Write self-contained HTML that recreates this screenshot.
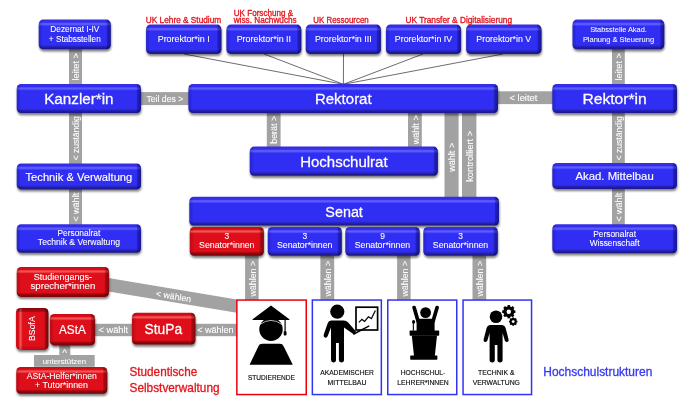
<!DOCTYPE html>
<html lang="de"><head><meta charset="utf-8"><title>Hochschulstrukturen</title>
<style>
html,body{margin:0;padding:0;background:#fff;}
body{width:691px;height:410px;overflow:hidden;}
svg{display:block;filter:blur(0.35px);font-family:"Liberation Sans",sans-serif;}
.t text{paint-order:stroke;}
.c text{stroke:#000;stroke-width:0.15px;}
</style></head><body>
<svg width="691" height="410" viewBox="0 0 691 410">
<defs>
<filter id="sh" x="-5%" y="-5%" width="110%" height="110%"><feGaussianBlur stdDeviation="1.3"/></filter>
<linearGradient id="g1" x1="0" y1="0" x2="0" y2="1"><stop offset="0.000" stop-color="#362ee2"/><stop offset="0.041" stop-color="#362ee2"/><stop offset="0.088" stop-color="#302ef3"/><stop offset="0.135" stop-color="#5e5cff"/><stop offset="0.162" stop-color="#5e5cff"/><stop offset="0.223" stop-color="#302ef3"/><stop offset="0.851" stop-color="#302ef3"/><stop offset="0.899" stop-color="#2a26c4"/><stop offset="0.956" stop-color="#1e1a94"/><stop offset="1.000" stop-color="#1e1a94"/></linearGradient>
<linearGradient id="g1s" x1="0" y1="0" x2="1" y2="0"><stop offset="0.000" stop-color="#00004a" stop-opacity="0.2"/><stop offset="0.036" stop-color="#00004a" stop-opacity="0.12"/><stop offset="0.056" stop-color="#00004a" stop-opacity="0"/><stop offset="0.936" stop-color="#00004a" stop-opacity="0"/><stop offset="0.953" stop-color="#00004a" stop-opacity="0.32"/><stop offset="1.000" stop-color="#00004a" stop-opacity="0.55"/></linearGradient>
<linearGradient id="g2" x1="0" y1="0" x2="0" y2="1"><stop offset="0.000" stop-color="#362ee2"/><stop offset="0.041" stop-color="#362ee2"/><stop offset="0.090" stop-color="#302ef3"/><stop offset="0.138" stop-color="#5e5cff"/><stop offset="0.166" stop-color="#5e5cff"/><stop offset="0.228" stop-color="#302ef3"/><stop offset="0.848" stop-color="#302ef3"/><stop offset="0.897" stop-color="#2a26c4"/><stop offset="0.955" stop-color="#1e1a94"/><stop offset="1.000" stop-color="#1e1a94"/></linearGradient>
<linearGradient id="g2s" x1="0" y1="0" x2="1" y2="0"><stop offset="0.000" stop-color="#00004a" stop-opacity="0.2"/><stop offset="0.021" stop-color="#00004a" stop-opacity="0.12"/><stop offset="0.032" stop-color="#00004a" stop-opacity="0"/><stop offset="0.963" stop-color="#00004a" stop-opacity="0"/><stop offset="0.973" stop-color="#00004a" stop-opacity="0.32"/><stop offset="1.000" stop-color="#00004a" stop-opacity="0.55"/></linearGradient>
<linearGradient id="g3" x1="0" y1="0" x2="0" y2="1"><stop offset="0.000" stop-color="#362ee2"/><stop offset="0.046" stop-color="#362ee2"/><stop offset="0.100" stop-color="#302ef3"/><stop offset="0.154" stop-color="#5e5cff"/><stop offset="0.185" stop-color="#5e5cff"/><stop offset="0.255" stop-color="#302ef3"/><stop offset="0.830" stop-color="#302ef3"/><stop offset="0.884" stop-color="#2a26c4"/><stop offset="0.950" stop-color="#1e1a94"/><stop offset="1.000" stop-color="#1e1a94"/></linearGradient>
<linearGradient id="g3s" x1="0" y1="0" x2="1" y2="0"><stop offset="0.000" stop-color="#00004a" stop-opacity="0.2"/><stop offset="0.021" stop-color="#00004a" stop-opacity="0.12"/><stop offset="0.032" stop-color="#00004a" stop-opacity="0"/><stop offset="0.963" stop-color="#00004a" stop-opacity="0"/><stop offset="0.973" stop-color="#00004a" stop-opacity="0.32"/><stop offset="1.000" stop-color="#00004a" stop-opacity="0.55"/></linearGradient>
<linearGradient id="g4" x1="0" y1="0" x2="0" y2="1"><stop offset="0.000" stop-color="#362ee2"/><stop offset="0.042" stop-color="#362ee2"/><stop offset="0.091" stop-color="#302ef3"/><stop offset="0.140" stop-color="#5e5cff"/><stop offset="0.168" stop-color="#5e5cff"/><stop offset="0.232" stop-color="#302ef3"/><stop offset="0.846" stop-color="#302ef3"/><stop offset="0.895" stop-color="#2a26c4"/><stop offset="0.954" stop-color="#1e1a94"/><stop offset="1.000" stop-color="#1e1a94"/></linearGradient>
<linearGradient id="g4s" x1="0" y1="0" x2="1" y2="0"><stop offset="0.000" stop-color="#00004a" stop-opacity="0.2"/><stop offset="0.021" stop-color="#00004a" stop-opacity="0.12"/><stop offset="0.032" stop-color="#00004a" stop-opacity="0"/><stop offset="0.963" stop-color="#00004a" stop-opacity="0"/><stop offset="0.973" stop-color="#00004a" stop-opacity="0.32"/><stop offset="1.000" stop-color="#00004a" stop-opacity="0.55"/></linearGradient>
<linearGradient id="g5" x1="0" y1="0" x2="0" y2="1"><stop offset="0.000" stop-color="#362ee2"/><stop offset="0.041" stop-color="#362ee2"/><stop offset="0.089" stop-color="#302ef3"/><stop offset="0.137" stop-color="#5e5cff"/><stop offset="0.164" stop-color="#5e5cff"/><stop offset="0.225" stop-color="#302ef3"/><stop offset="0.850" stop-color="#302ef3"/><stop offset="0.898" stop-color="#2a26c4"/><stop offset="0.956" stop-color="#1e1a94"/><stop offset="1.000" stop-color="#1e1a94"/></linearGradient>
<linearGradient id="g5s" x1="0" y1="0" x2="1" y2="0"><stop offset="0.000" stop-color="#00004a" stop-opacity="0.2"/><stop offset="0.035" stop-color="#00004a" stop-opacity="0.12"/><stop offset="0.053" stop-color="#00004a" stop-opacity="0"/><stop offset="0.939" stop-color="#00004a" stop-opacity="0"/><stop offset="0.955" stop-color="#00004a" stop-opacity="0.32"/><stop offset="1.000" stop-color="#00004a" stop-opacity="0.55"/></linearGradient>
<linearGradient id="g6" x1="0" y1="0" x2="0" y2="1"><stop offset="0.000" stop-color="#362ee2"/><stop offset="0.041" stop-color="#362ee2"/><stop offset="0.089" stop-color="#302ef3"/><stop offset="0.137" stop-color="#5e5cff"/><stop offset="0.164" stop-color="#5e5cff"/><stop offset="0.225" stop-color="#302ef3"/><stop offset="0.850" stop-color="#302ef3"/><stop offset="0.898" stop-color="#2a26c4"/><stop offset="0.956" stop-color="#1e1a94"/><stop offset="1.000" stop-color="#1e1a94"/></linearGradient>
<linearGradient id="g6s" x1="0" y1="0" x2="1" y2="0"><stop offset="0.000" stop-color="#00004a" stop-opacity="0.2"/><stop offset="0.035" stop-color="#00004a" stop-opacity="0.12"/><stop offset="0.053" stop-color="#00004a" stop-opacity="0"/><stop offset="0.939" stop-color="#00004a" stop-opacity="0"/><stop offset="0.955" stop-color="#00004a" stop-opacity="0.32"/><stop offset="1.000" stop-color="#00004a" stop-opacity="0.55"/></linearGradient>
<linearGradient id="g7" x1="0" y1="0" x2="0" y2="1"><stop offset="0.000" stop-color="#362ee2"/><stop offset="0.041" stop-color="#362ee2"/><stop offset="0.089" stop-color="#302ef3"/><stop offset="0.137" stop-color="#5e5cff"/><stop offset="0.164" stop-color="#5e5cff"/><stop offset="0.225" stop-color="#302ef3"/><stop offset="0.850" stop-color="#302ef3"/><stop offset="0.898" stop-color="#2a26c4"/><stop offset="0.956" stop-color="#1e1a94"/><stop offset="1.000" stop-color="#1e1a94"/></linearGradient>
<linearGradient id="g7s" x1="0" y1="0" x2="1" y2="0"><stop offset="0.000" stop-color="#00004a" stop-opacity="0.2"/><stop offset="0.035" stop-color="#00004a" stop-opacity="0.12"/><stop offset="0.053" stop-color="#00004a" stop-opacity="0"/><stop offset="0.939" stop-color="#00004a" stop-opacity="0"/><stop offset="0.955" stop-color="#00004a" stop-opacity="0.32"/><stop offset="1.000" stop-color="#00004a" stop-opacity="0.55"/></linearGradient>
<linearGradient id="g8" x1="0" y1="0" x2="0" y2="1"><stop offset="0.000" stop-color="#362ee2"/><stop offset="0.041" stop-color="#362ee2"/><stop offset="0.089" stop-color="#302ef3"/><stop offset="0.137" stop-color="#5e5cff"/><stop offset="0.164" stop-color="#5e5cff"/><stop offset="0.225" stop-color="#302ef3"/><stop offset="0.850" stop-color="#302ef3"/><stop offset="0.898" stop-color="#2a26c4"/><stop offset="0.956" stop-color="#1e1a94"/><stop offset="1.000" stop-color="#1e1a94"/></linearGradient>
<linearGradient id="g8s" x1="0" y1="0" x2="1" y2="0"><stop offset="0.000" stop-color="#00004a" stop-opacity="0.2"/><stop offset="0.035" stop-color="#00004a" stop-opacity="0.12"/><stop offset="0.053" stop-color="#00004a" stop-opacity="0"/><stop offset="0.939" stop-color="#00004a" stop-opacity="0"/><stop offset="0.955" stop-color="#00004a" stop-opacity="0.32"/><stop offset="1.000" stop-color="#00004a" stop-opacity="0.55"/></linearGradient>
<linearGradient id="g9" x1="0" y1="0" x2="0" y2="1"><stop offset="0.000" stop-color="#362ee2"/><stop offset="0.041" stop-color="#362ee2"/><stop offset="0.089" stop-color="#302ef3"/><stop offset="0.137" stop-color="#5e5cff"/><stop offset="0.164" stop-color="#5e5cff"/><stop offset="0.225" stop-color="#302ef3"/><stop offset="0.850" stop-color="#302ef3"/><stop offset="0.898" stop-color="#2a26c4"/><stop offset="0.956" stop-color="#1e1a94"/><stop offset="1.000" stop-color="#1e1a94"/></linearGradient>
<linearGradient id="g9s" x1="0" y1="0" x2="1" y2="0"><stop offset="0.000" stop-color="#00004a" stop-opacity="0.2"/><stop offset="0.035" stop-color="#00004a" stop-opacity="0.12"/><stop offset="0.053" stop-color="#00004a" stop-opacity="0"/><stop offset="0.939" stop-color="#00004a" stop-opacity="0"/><stop offset="0.955" stop-color="#00004a" stop-opacity="0.32"/><stop offset="1.000" stop-color="#00004a" stop-opacity="0.55"/></linearGradient>
<linearGradient id="g10" x1="0" y1="0" x2="0" y2="1"><stop offset="0.000" stop-color="#362ee2"/><stop offset="0.041" stop-color="#362ee2"/><stop offset="0.090" stop-color="#302ef3"/><stop offset="0.138" stop-color="#5e5cff"/><stop offset="0.166" stop-color="#5e5cff"/><stop offset="0.228" stop-color="#302ef3"/><stop offset="0.848" stop-color="#302ef3"/><stop offset="0.897" stop-color="#2a26c4"/><stop offset="0.955" stop-color="#1e1a94"/><stop offset="1.000" stop-color="#1e1a94"/></linearGradient>
<linearGradient id="g10s" x1="0" y1="0" x2="1" y2="0"><stop offset="0.000" stop-color="#00004a" stop-opacity="0.2"/><stop offset="0.008" stop-color="#00004a" stop-opacity="0.12"/><stop offset="0.013" stop-color="#00004a" stop-opacity="0"/><stop offset="0.985" stop-color="#00004a" stop-opacity="0"/><stop offset="0.989" stop-color="#00004a" stop-opacity="0.32"/><stop offset="1.000" stop-color="#00004a" stop-opacity="0.55"/></linearGradient>
<linearGradient id="g11" x1="0" y1="0" x2="0" y2="1"><stop offset="0.000" stop-color="#362ee2"/><stop offset="0.041" stop-color="#362ee2"/><stop offset="0.089" stop-color="#302ef3"/><stop offset="0.137" stop-color="#5e5cff"/><stop offset="0.165" stop-color="#5e5cff"/><stop offset="0.227" stop-color="#302ef3"/><stop offset="0.849" stop-color="#302ef3"/><stop offset="0.897" stop-color="#2a26c4"/><stop offset="0.955" stop-color="#1e1a94"/><stop offset="1.000" stop-color="#1e1a94"/></linearGradient>
<linearGradient id="g11s" x1="0" y1="0" x2="1" y2="0"><stop offset="0.000" stop-color="#00004a" stop-opacity="0.2"/><stop offset="0.014" stop-color="#00004a" stop-opacity="0.12"/><stop offset="0.021" stop-color="#00004a" stop-opacity="0"/><stop offset="0.976" stop-color="#00004a" stop-opacity="0"/><stop offset="0.982" stop-color="#00004a" stop-opacity="0.32"/><stop offset="1.000" stop-color="#00004a" stop-opacity="0.55"/></linearGradient>
<linearGradient id="g12" x1="0" y1="0" x2="0" y2="1"><stop offset="0.000" stop-color="#362ee2"/><stop offset="0.042" stop-color="#362ee2"/><stop offset="0.090" stop-color="#302ef3"/><stop offset="0.139" stop-color="#5e5cff"/><stop offset="0.167" stop-color="#5e5cff"/><stop offset="0.229" stop-color="#302ef3"/><stop offset="0.847" stop-color="#302ef3"/><stop offset="0.896" stop-color="#2a26c4"/><stop offset="0.955" stop-color="#1e1a94"/><stop offset="1.000" stop-color="#1e1a94"/></linearGradient>
<linearGradient id="g12s" x1="0" y1="0" x2="1" y2="0"><stop offset="0.000" stop-color="#00004a" stop-opacity="0.2"/><stop offset="0.008" stop-color="#00004a" stop-opacity="0.12"/><stop offset="0.013" stop-color="#00004a" stop-opacity="0"/><stop offset="0.985" stop-color="#00004a" stop-opacity="0"/><stop offset="0.989" stop-color="#00004a" stop-opacity="0.32"/><stop offset="1.000" stop-color="#00004a" stop-opacity="0.55"/></linearGradient>
<linearGradient id="g13" x1="0" y1="0" x2="0" y2="1"><stop offset="0.000" stop-color="#d00a14"/><stop offset="0.042" stop-color="#d00a14"/><stop offset="0.091" stop-color="#de0e1a"/><stop offset="0.139" stop-color="#f25454"/><stop offset="0.167" stop-color="#f25454"/><stop offset="0.230" stop-color="#de0e1a"/><stop offset="0.847" stop-color="#de0e1a"/><stop offset="0.895" stop-color="#a8080f"/><stop offset="0.955" stop-color="#7e060b"/><stop offset="1.000" stop-color="#7e060b"/></linearGradient>
<linearGradient id="g13s" x1="0" y1="0" x2="1" y2="0"><stop offset="0.000" stop-color="#3a0000" stop-opacity="0.2"/><stop offset="0.035" stop-color="#3a0000" stop-opacity="0.12"/><stop offset="0.054" stop-color="#3a0000" stop-opacity="0"/><stop offset="0.938" stop-color="#3a0000" stop-opacity="0"/><stop offset="0.954" stop-color="#3a0000" stop-opacity="0.32"/><stop offset="1.000" stop-color="#3a0000" stop-opacity="0.55"/></linearGradient>
<linearGradient id="g14" x1="0" y1="0" x2="0" y2="1"><stop offset="0.000" stop-color="#362ee2"/><stop offset="0.042" stop-color="#362ee2"/><stop offset="0.091" stop-color="#302ef3"/><stop offset="0.139" stop-color="#5e5cff"/><stop offset="0.167" stop-color="#5e5cff"/><stop offset="0.230" stop-color="#302ef3"/><stop offset="0.847" stop-color="#302ef3"/><stop offset="0.895" stop-color="#2a26c4"/><stop offset="0.955" stop-color="#1e1a94"/><stop offset="1.000" stop-color="#1e1a94"/></linearGradient>
<linearGradient id="g14s" x1="0" y1="0" x2="1" y2="0"><stop offset="0.000" stop-color="#00004a" stop-opacity="0.2"/><stop offset="0.035" stop-color="#00004a" stop-opacity="0.12"/><stop offset="0.054" stop-color="#00004a" stop-opacity="0"/><stop offset="0.938" stop-color="#00004a" stop-opacity="0"/><stop offset="0.954" stop-color="#00004a" stop-opacity="0.32"/><stop offset="1.000" stop-color="#00004a" stop-opacity="0.55"/></linearGradient>
<linearGradient id="g15" x1="0" y1="0" x2="0" y2="1"><stop offset="0.000" stop-color="#362ee2"/><stop offset="0.042" stop-color="#362ee2"/><stop offset="0.091" stop-color="#302ef3"/><stop offset="0.139" stop-color="#5e5cff"/><stop offset="0.167" stop-color="#5e5cff"/><stop offset="0.230" stop-color="#302ef3"/><stop offset="0.847" stop-color="#302ef3"/><stop offset="0.895" stop-color="#2a26c4"/><stop offset="0.955" stop-color="#1e1a94"/><stop offset="1.000" stop-color="#1e1a94"/></linearGradient>
<linearGradient id="g15s" x1="0" y1="0" x2="1" y2="0"><stop offset="0.000" stop-color="#00004a" stop-opacity="0.2"/><stop offset="0.035" stop-color="#00004a" stop-opacity="0.12"/><stop offset="0.054" stop-color="#00004a" stop-opacity="0"/><stop offset="0.938" stop-color="#00004a" stop-opacity="0"/><stop offset="0.954" stop-color="#00004a" stop-opacity="0.32"/><stop offset="1.000" stop-color="#00004a" stop-opacity="0.55"/></linearGradient>
<linearGradient id="g16" x1="0" y1="0" x2="0" y2="1"><stop offset="0.000" stop-color="#362ee2"/><stop offset="0.042" stop-color="#362ee2"/><stop offset="0.091" stop-color="#302ef3"/><stop offset="0.139" stop-color="#5e5cff"/><stop offset="0.167" stop-color="#5e5cff"/><stop offset="0.230" stop-color="#302ef3"/><stop offset="0.847" stop-color="#302ef3"/><stop offset="0.895" stop-color="#2a26c4"/><stop offset="0.955" stop-color="#1e1a94"/><stop offset="1.000" stop-color="#1e1a94"/></linearGradient>
<linearGradient id="g16s" x1="0" y1="0" x2="1" y2="0"><stop offset="0.000" stop-color="#00004a" stop-opacity="0.2"/><stop offset="0.035" stop-color="#00004a" stop-opacity="0.12"/><stop offset="0.054" stop-color="#00004a" stop-opacity="0"/><stop offset="0.938" stop-color="#00004a" stop-opacity="0"/><stop offset="0.954" stop-color="#00004a" stop-opacity="0.32"/><stop offset="1.000" stop-color="#00004a" stop-opacity="0.55"/></linearGradient>
<linearGradient id="g17" x1="0" y1="0" x2="0" y2="1"><stop offset="0.000" stop-color="#362ee2"/><stop offset="0.041" stop-color="#362ee2"/><stop offset="0.088" stop-color="#302ef3"/><stop offset="0.135" stop-color="#5e5cff"/><stop offset="0.162" stop-color="#5e5cff"/><stop offset="0.223" stop-color="#302ef3"/><stop offset="0.851" stop-color="#302ef3"/><stop offset="0.899" stop-color="#2a26c4"/><stop offset="0.956" stop-color="#1e1a94"/><stop offset="1.000" stop-color="#1e1a94"/></linearGradient>
<linearGradient id="g17s" x1="0" y1="0" x2="1" y2="0"><stop offset="0.000" stop-color="#00004a" stop-opacity="0.2"/><stop offset="0.028" stop-color="#00004a" stop-opacity="0.12"/><stop offset="0.044" stop-color="#00004a" stop-opacity="0"/><stop offset="0.950" stop-color="#00004a" stop-opacity="0"/><stop offset="0.963" stop-color="#00004a" stop-opacity="0.32"/><stop offset="1.000" stop-color="#00004a" stop-opacity="0.55"/></linearGradient>
<linearGradient id="g18" x1="0" y1="0" x2="0" y2="1"><stop offset="0.000" stop-color="#362ee2"/><stop offset="0.041" stop-color="#362ee2"/><stop offset="0.090" stop-color="#302ef3"/><stop offset="0.138" stop-color="#5e5cff"/><stop offset="0.166" stop-color="#5e5cff"/><stop offset="0.228" stop-color="#302ef3"/><stop offset="0.848" stop-color="#302ef3"/><stop offset="0.897" stop-color="#2a26c4"/><stop offset="0.955" stop-color="#1e1a94"/><stop offset="1.000" stop-color="#1e1a94"/></linearGradient>
<linearGradient id="g18s" x1="0" y1="0" x2="1" y2="0"><stop offset="0.000" stop-color="#00004a" stop-opacity="0.2"/><stop offset="0.021" stop-color="#00004a" stop-opacity="0.12"/><stop offset="0.032" stop-color="#00004a" stop-opacity="0"/><stop offset="0.963" stop-color="#00004a" stop-opacity="0"/><stop offset="0.973" stop-color="#00004a" stop-opacity="0.32"/><stop offset="1.000" stop-color="#00004a" stop-opacity="0.55"/></linearGradient>
<linearGradient id="g19" x1="0" y1="0" x2="0" y2="1"><stop offset="0.000" stop-color="#362ee2"/><stop offset="0.046" stop-color="#362ee2"/><stop offset="0.100" stop-color="#302ef3"/><stop offset="0.154" stop-color="#5e5cff"/><stop offset="0.185" stop-color="#5e5cff"/><stop offset="0.255" stop-color="#302ef3"/><stop offset="0.830" stop-color="#302ef3"/><stop offset="0.884" stop-color="#2a26c4"/><stop offset="0.950" stop-color="#1e1a94"/><stop offset="1.000" stop-color="#1e1a94"/></linearGradient>
<linearGradient id="g19s" x1="0" y1="0" x2="1" y2="0"><stop offset="0.000" stop-color="#00004a" stop-opacity="0.2"/><stop offset="0.021" stop-color="#00004a" stop-opacity="0.12"/><stop offset="0.032" stop-color="#00004a" stop-opacity="0"/><stop offset="0.963" stop-color="#00004a" stop-opacity="0"/><stop offset="0.973" stop-color="#00004a" stop-opacity="0.32"/><stop offset="1.000" stop-color="#00004a" stop-opacity="0.55"/></linearGradient>
<linearGradient id="g20" x1="0" y1="0" x2="0" y2="1"><stop offset="0.000" stop-color="#362ee2"/><stop offset="0.041" stop-color="#362ee2"/><stop offset="0.090" stop-color="#302ef3"/><stop offset="0.138" stop-color="#5e5cff"/><stop offset="0.166" stop-color="#5e5cff"/><stop offset="0.228" stop-color="#302ef3"/><stop offset="0.848" stop-color="#302ef3"/><stop offset="0.897" stop-color="#2a26c4"/><stop offset="0.955" stop-color="#1e1a94"/><stop offset="1.000" stop-color="#1e1a94"/></linearGradient>
<linearGradient id="g20s" x1="0" y1="0" x2="1" y2="0"><stop offset="0.000" stop-color="#00004a" stop-opacity="0.2"/><stop offset="0.021" stop-color="#00004a" stop-opacity="0.12"/><stop offset="0.032" stop-color="#00004a" stop-opacity="0"/><stop offset="0.963" stop-color="#00004a" stop-opacity="0"/><stop offset="0.973" stop-color="#00004a" stop-opacity="0.32"/><stop offset="1.000" stop-color="#00004a" stop-opacity="0.55"/></linearGradient>
<linearGradient id="g21" x1="0" y1="0" x2="0" y2="1"><stop offset="0.000" stop-color="#d00a14"/><stop offset="0.040" stop-color="#d00a14"/><stop offset="0.087" stop-color="#de0e1a"/><stop offset="0.134" stop-color="#f25454"/><stop offset="0.161" stop-color="#f25454"/><stop offset="0.221" stop-color="#de0e1a"/><stop offset="0.853" stop-color="#de0e1a"/><stop offset="0.900" stop-color="#a8080f"/><stop offset="0.957" stop-color="#7e060b"/><stop offset="1.000" stop-color="#7e060b"/></linearGradient>
<linearGradient id="g21s" x1="0" y1="0" x2="1" y2="0"><stop offset="0.000" stop-color="#3a0000" stop-opacity="0.2"/><stop offset="0.028" stop-color="#3a0000" stop-opacity="0.12"/><stop offset="0.043" stop-color="#3a0000" stop-opacity="0"/><stop offset="0.950" stop-color="#3a0000" stop-opacity="0"/><stop offset="0.963" stop-color="#3a0000" stop-opacity="0.32"/><stop offset="1.000" stop-color="#3a0000" stop-opacity="0.55"/></linearGradient>
<linearGradient id="g22" x1="0" y1="0" x2="1" y2="0"><stop offset="0.000" stop-color="#d00a14"/><stop offset="0.037" stop-color="#d00a14"/><stop offset="0.080" stop-color="#de0e1a"/><stop offset="0.123" stop-color="#f25454"/><stop offset="0.148" stop-color="#f25454"/><stop offset="0.204" stop-color="#de0e1a"/><stop offset="0.864" stop-color="#de0e1a"/><stop offset="0.907" stop-color="#a8080f"/><stop offset="0.960" stop-color="#7e060b"/><stop offset="1.000" stop-color="#7e060b"/></linearGradient>
<linearGradient id="g22s" x1="0" y1="1" x2="0" y2="0"><stop offset="0.000" stop-color="#3a0000" stop-opacity="0.2"/><stop offset="0.062" stop-color="#3a0000" stop-opacity="0.12"/><stop offset="0.095" stop-color="#3a0000" stop-opacity="0"/><stop offset="0.890" stop-color="#3a0000" stop-opacity="0"/><stop offset="0.919" stop-color="#3a0000" stop-opacity="0.32"/><stop offset="1.000" stop-color="#3a0000" stop-opacity="0.55"/></linearGradient>
<linearGradient id="g23" x1="0" y1="0" x2="0" y2="1"><stop offset="0.000" stop-color="#d00a14"/><stop offset="0.038" stop-color="#d00a14"/><stop offset="0.083" stop-color="#de0e1a"/><stop offset="0.127" stop-color="#f25454"/><stop offset="0.153" stop-color="#f25454"/><stop offset="0.210" stop-color="#de0e1a"/><stop offset="0.860" stop-color="#de0e1a"/><stop offset="0.904" stop-color="#a8080f"/><stop offset="0.959" stop-color="#7e060b"/><stop offset="1.000" stop-color="#7e060b"/></linearGradient>
<linearGradient id="g23s" x1="0" y1="0" x2="1" y2="0"><stop offset="0.000" stop-color="#3a0000" stop-opacity="0.2"/><stop offset="0.058" stop-color="#3a0000" stop-opacity="0.12"/><stop offset="0.088" stop-color="#3a0000" stop-opacity="0"/><stop offset="0.898" stop-color="#3a0000" stop-opacity="0"/><stop offset="0.925" stop-color="#3a0000" stop-opacity="0.32"/><stop offset="1.000" stop-color="#3a0000" stop-opacity="0.55"/></linearGradient>
<linearGradient id="g24" x1="0" y1="0" x2="0" y2="1"><stop offset="0.000" stop-color="#d00a14"/><stop offset="0.038" stop-color="#d00a14"/><stop offset="0.082" stop-color="#de0e1a"/><stop offset="0.126" stop-color="#f25454"/><stop offset="0.151" stop-color="#f25454"/><stop offset="0.208" stop-color="#de0e1a"/><stop offset="0.862" stop-color="#de0e1a"/><stop offset="0.906" stop-color="#a8080f"/><stop offset="0.959" stop-color="#7e060b"/><stop offset="1.000" stop-color="#7e060b"/></linearGradient>
<linearGradient id="g24s" x1="0" y1="0" x2="1" y2="0"><stop offset="0.000" stop-color="#3a0000" stop-opacity="0.2"/><stop offset="0.041" stop-color="#3a0000" stop-opacity="0.12"/><stop offset="0.063" stop-color="#3a0000" stop-opacity="0"/><stop offset="0.927" stop-color="#3a0000" stop-opacity="0"/><stop offset="0.946" stop-color="#3a0000" stop-opacity="0.32"/><stop offset="1.000" stop-color="#3a0000" stop-opacity="0.55"/></linearGradient>
<linearGradient id="g25" x1="0" y1="0" x2="0" y2="1"><stop offset="0.000" stop-color="#d00a14"/><stop offset="0.045" stop-color="#d00a14"/><stop offset="0.097" stop-color="#de0e1a"/><stop offset="0.149" stop-color="#f25454"/><stop offset="0.179" stop-color="#f25454"/><stop offset="0.246" stop-color="#de0e1a"/><stop offset="0.836" stop-color="#de0e1a"/><stop offset="0.888" stop-color="#a8080f"/><stop offset="0.951" stop-color="#7e060b"/><stop offset="1.000" stop-color="#7e060b"/></linearGradient>
<linearGradient id="g25s" x1="0" y1="0" x2="1" y2="0"><stop offset="0.000" stop-color="#3a0000" stop-opacity="0.2"/><stop offset="0.029" stop-color="#3a0000" stop-opacity="0.12"/><stop offset="0.044" stop-color="#3a0000" stop-opacity="0"/><stop offset="0.949" stop-color="#3a0000" stop-opacity="0"/><stop offset="0.963" stop-color="#3a0000" stop-opacity="0.32"/><stop offset="1.000" stop-color="#3a0000" stop-opacity="0.55"/></linearGradient>
</defs>
<rect width="691" height="410" fill="#fff"/>
<g><line x1="184" y1="54" x2="343.4" y2="84.3" stroke="#3c3c3c" stroke-width="0.75"/>
<line x1="264" y1="54" x2="343.4" y2="84.3" stroke="#3c3c3c" stroke-width="0.75"/>
<line x1="343.5" y1="54" x2="343.4" y2="84.3" stroke="#3c3c3c" stroke-width="0.75"/>
<line x1="423" y1="54" x2="343.4" y2="84.3" stroke="#3c3c3c" stroke-width="0.75"/>
<line x1="503" y1="54" x2="343.4" y2="84.3" stroke="#3c3c3c" stroke-width="0.75"/></g>
<g><rect x="69.00" y="46.00" width="13.00" height="40.00" fill="#a2a2a2"/>
<rect x="69.00" y="110.00" width="13.00" height="56.00" fill="#a2a2a2"/>
<rect x="69.00" y="187.00" width="13.00" height="39.00" fill="#a2a2a2"/>
<rect x="612.00" y="46.00" width="12.80" height="40.00" fill="#a2a2a2"/>
<rect x="612.00" y="110.00" width="12.80" height="56.00" fill="#a2a2a2"/>
<rect x="612.00" y="187.00" width="12.80" height="39.00" fill="#a2a2a2"/>
<rect x="139.00" y="92.10" width="51.00" height="13.00" fill="#a2a2a2"/>
<rect x="496.00" y="91.30" width="58.00" height="12.80" fill="#a2a2a2"/>
<rect x="266.80" y="110.00" width="13.80" height="38.00" fill="#a2a2a2"/>
<rect x="408.00" y="110.00" width="13.80" height="38.00" fill="#a2a2a2"/>
<rect x="444.50" y="110.00" width="14.10" height="89.00" fill="#a2a2a2"/>
<rect x="462.00" y="110.00" width="14.40" height="89.00" fill="#a2a2a2"/>
<rect x="245.10" y="253.00" width="13.50" height="47.50" fill="#a2a2a2"/>
<rect x="320.40" y="253.00" width="13.80" height="47.50" fill="#a2a2a2"/>
<rect x="397.10" y="253.00" width="13.50" height="47.50" fill="#a2a2a2"/>
<rect x="472.50" y="253.00" width="13.70" height="47.50" fill="#a2a2a2"/>
<rect x="193.00" y="323.80" width="44.00" height="12.40" fill="#a2a2a2"/>
<rect x="93.00" y="323.80" width="41.00" height="12.40" fill="#a2a2a2"/>
<polygon points="107,277.8 236.8,299.5 236.8,312.8 107,291.2" fill="#a2a2a2"/>
<rect x="59.30" y="343.00" width="11.00" height="13.00" fill="#a2a2a2"/>
<rect x="34.00" y="355.00" width="60.70" height="11.80" fill="#a2a2a2"/></g>
<g filter="url(#sh)" fill="#000" opacity="0.5"><rect x="39.25" y="21.80" width="72.00" height="29.60" rx="4.4"/>
<rect x="17.25" y="86.20" width="124.20" height="29.00" rx="4.4"/>
<rect x="17.25" y="165.70" width="124.20" height="25.90" rx="4.4"/>
<rect x="17.25" y="226.40" width="124.20" height="28.50" rx="4.4"/>
<rect x="146.55" y="26.80" width="75.30" height="29.30" rx="4.4"/>
<rect x="226.95" y="26.80" width="74.80" height="29.30" rx="4.4"/>
<rect x="306.25" y="26.80" width="75.10" height="29.30" rx="4.4"/>
<rect x="386.45" y="26.80" width="75.10" height="29.30" rx="4.4"/>
<rect x="466.65" y="26.80" width="75.30" height="29.30" rx="4.4"/>
<rect x="188.95" y="86.20" width="309.50" height="29.00" rx="4.4"/>
<rect x="250.25" y="148.80" width="188.10" height="29.10" rx="4.4"/>
<rect x="189.85" y="199.00" width="309.60" height="28.80" rx="4.4"/>
<rect x="190.25" y="229.20" width="74.10" height="28.70" rx="4.4"/>
<rect x="268.25" y="229.20" width="74.00" height="28.70" rx="4.4"/>
<rect x="345.85" y="229.20" width="74.30" height="28.70" rx="4.4"/>
<rect x="423.85" y="229.20" width="74.40" height="28.70" rx="4.4"/>
<rect x="573.05" y="21.80" width="91.70" height="29.60" rx="4.4"/>
<rect x="552.85" y="86.20" width="124.60" height="29.00" rx="4.4"/>
<rect x="552.85" y="165.20" width="124.60" height="25.90" rx="4.4"/>
<rect x="552.85" y="226.40" width="124.60" height="29.00" rx="4.4"/>
<rect x="17.25" y="269.20" width="92.20" height="29.90" rx="4.4"/>
<rect x="16.55" y="310.20" width="32.40" height="41.90" rx="4.4"/>
<rect x="50.35" y="316.20" width="45.20" height="31.40" rx="4.4"/>
<rect x="132.45" y="315.00" width="63.40" height="31.80" rx="4.4"/>
<rect x="16.75" y="369.20" width="91.00" height="26.80" rx="4.4"/></g>
<g><rect x="38.75" y="19.60" width="72.00" height="29.60" rx="4.4" fill="url(#g1)"/>
<rect x="38.75" y="19.60" width="72.00" height="29.60" rx="4.4" fill="url(#g1s)"/>
<rect x="16.75" y="84.00" width="124.20" height="29.00" rx="4.4" fill="url(#g2)"/>
<rect x="16.75" y="84.00" width="124.20" height="29.00" rx="4.4" fill="url(#g2s)"/>
<rect x="16.75" y="163.50" width="124.20" height="25.90" rx="4.4" fill="url(#g3)"/>
<rect x="16.75" y="163.50" width="124.20" height="25.90" rx="4.4" fill="url(#g3s)"/>
<rect x="16.75" y="224.20" width="124.20" height="28.50" rx="4.4" fill="url(#g4)"/>
<rect x="16.75" y="224.20" width="124.20" height="28.50" rx="4.4" fill="url(#g4s)"/>
<rect x="146.05" y="24.60" width="75.30" height="29.30" rx="4.4" fill="url(#g5)"/>
<rect x="146.05" y="24.60" width="75.30" height="29.30" rx="4.4" fill="url(#g5s)"/>
<rect x="226.45" y="24.60" width="74.80" height="29.30" rx="4.4" fill="url(#g6)"/>
<rect x="226.45" y="24.60" width="74.80" height="29.30" rx="4.4" fill="url(#g6s)"/>
<rect x="305.75" y="24.60" width="75.10" height="29.30" rx="4.4" fill="url(#g7)"/>
<rect x="305.75" y="24.60" width="75.10" height="29.30" rx="4.4" fill="url(#g7s)"/>
<rect x="385.95" y="24.60" width="75.10" height="29.30" rx="4.4" fill="url(#g8)"/>
<rect x="385.95" y="24.60" width="75.10" height="29.30" rx="4.4" fill="url(#g8s)"/>
<rect x="466.15" y="24.60" width="75.30" height="29.30" rx="4.4" fill="url(#g9)"/>
<rect x="466.15" y="24.60" width="75.30" height="29.30" rx="4.4" fill="url(#g9s)"/>
<rect x="188.45" y="84.00" width="309.50" height="29.00" rx="4.4" fill="url(#g10)"/>
<rect x="188.45" y="84.00" width="309.50" height="29.00" rx="4.4" fill="url(#g10s)"/>
<rect x="249.75" y="146.60" width="188.10" height="29.10" rx="4.4" fill="url(#g11)"/>
<rect x="249.75" y="146.60" width="188.10" height="29.10" rx="4.4" fill="url(#g11s)"/>
<rect x="189.35" y="196.80" width="309.60" height="28.80" rx="4.4" fill="url(#g12)"/>
<rect x="189.35" y="196.80" width="309.60" height="28.80" rx="4.4" fill="url(#g12s)"/>
<rect x="189.75" y="227.00" width="74.10" height="28.70" rx="4.4" fill="url(#g13)"/>
<rect x="189.75" y="227.00" width="74.10" height="28.70" rx="4.4" fill="url(#g13s)"/>
<rect x="267.75" y="227.00" width="74.00" height="28.70" rx="4.4" fill="url(#g14)"/>
<rect x="267.75" y="227.00" width="74.00" height="28.70" rx="4.4" fill="url(#g14s)"/>
<rect x="345.35" y="227.00" width="74.30" height="28.70" rx="4.4" fill="url(#g15)"/>
<rect x="345.35" y="227.00" width="74.30" height="28.70" rx="4.4" fill="url(#g15s)"/>
<rect x="423.35" y="227.00" width="74.40" height="28.70" rx="4.4" fill="url(#g16)"/>
<rect x="423.35" y="227.00" width="74.40" height="28.70" rx="4.4" fill="url(#g16s)"/>
<rect x="572.55" y="19.60" width="91.70" height="29.60" rx="4.4" fill="url(#g17)"/>
<rect x="572.55" y="19.60" width="91.70" height="29.60" rx="4.4" fill="url(#g17s)"/>
<rect x="552.35" y="84.00" width="124.60" height="29.00" rx="4.4" fill="url(#g18)"/>
<rect x="552.35" y="84.00" width="124.60" height="29.00" rx="4.4" fill="url(#g18s)"/>
<rect x="552.35" y="163.00" width="124.60" height="25.90" rx="4.4" fill="url(#g19)"/>
<rect x="552.35" y="163.00" width="124.60" height="25.90" rx="4.4" fill="url(#g19s)"/>
<rect x="552.35" y="224.20" width="124.60" height="29.00" rx="4.4" fill="url(#g20)"/>
<rect x="552.35" y="224.20" width="124.60" height="29.00" rx="4.4" fill="url(#g20s)"/>
<rect x="16.75" y="267.00" width="92.20" height="29.90" rx="4.4" fill="url(#g21)"/>
<rect x="16.75" y="267.00" width="92.20" height="29.90" rx="4.4" fill="url(#g21s)"/>
<rect x="16.05" y="308.00" width="32.40" height="41.90" rx="4.4" fill="url(#g22)"/>
<rect x="16.05" y="308.00" width="32.40" height="41.90" rx="4.4" fill="url(#g22s)"/>
<rect x="49.85" y="314.00" width="45.20" height="31.40" rx="4.4" fill="url(#g23)"/>
<rect x="49.85" y="314.00" width="45.20" height="31.40" rx="4.4" fill="url(#g23s)"/>
<rect x="131.95" y="312.80" width="63.40" height="31.80" rx="4.4" fill="url(#g24)"/>
<rect x="131.95" y="312.80" width="63.40" height="31.80" rx="4.4" fill="url(#g24s)"/>
<rect x="16.25" y="367.00" width="91.00" height="26.80" rx="4.4" fill="url(#g25)"/>
<rect x="16.25" y="367.00" width="91.00" height="26.80" rx="4.4" fill="url(#g25s)"/></g>
<g><rect x="236.85" y="300.05" width="69.40" height="94.50" fill="#fff" stroke="#e8000e" stroke-width="1.5"/>
<rect x="312.35" y="300.05" width="69.00" height="94.50" fill="#fff" stroke="#3232f6" stroke-width="1.5"/>
<rect x="387.75" y="300.05" width="69.00" height="94.50" fill="#fff" stroke="#3232f6" stroke-width="1.5"/>
<rect x="463.05" y="300.05" width="68.50" height="94.50" fill="#fff" stroke="#3232f6" stroke-width="1.5"/>
<g fill="#000">
<circle cx="271" cy="329.2" r="11.7"/>
<path d="M271 305.6 L289.4 319.2 L289.4 320 L252.6 320 L252.6 319.2 Z"/>
<path d="M259.8 324.6 Q271 316.2 282.2 324.6" fill="none" stroke="#fff" stroke-width="0.7"/>
<rect x="284.5" y="319.5" width="1.2" height="13"/>
<rect x="283.7" y="331.2" width="2.8" height="4.2" rx="0.9"/>
<path d="M262.2 343.8 H279.8 Q282.6 343.8 283.6 346.2 L292.8 364.8 H249.6 L258.4 346.2 Q259.4 343.8 262.2 343.8 Z"/>
</g>
<g fill="#000">
<circle cx="337.3" cy="311.7" r="7.1"/>
<path d="M331 320.6 H343.6 Q346.4 320.6 348.2 322.6 L356 331.4 L354 334.6 L344 327.5 V360 Q344 362.4 341.4 362.4 Q338.9 362.4 338.9 360 V343 H336 V360 Q336 362.4 333.4 362.4 Q331 362.4 331 360 V327.5 L327.6 336.2 Q326.6 338.2 324.8 337.4 Q323 336.6 323.8 334.4 L327.6 323.4 Q328.6 320.6 331 320.6 Z"/>
<rect x="356" y="307.2" width="21.6" height="22.8" fill="#fff" stroke="#000" stroke-width="1.7"/>
<polyline points="358.8,322.4 362,319.4 364.6,321.4 368.4,316.8 371.4,318.6 375.4,310.6" fill="none" stroke="#000" stroke-width="1.2"/>
<line x1="353.8" y1="334" x2="368.8" y2="326.2" stroke="#000" stroke-width="1.5" stroke-linecap="round"/>
</g>
<g fill="#000">
<circle cx="425.6" cy="312.6" r="5.4"/>
<g stroke="#000" stroke-width="3.7" stroke-linecap="round" fill="none"><line x1="414.1" y1="307.6" x2="418.2" y2="321.6"/><line x1="437.1" y1="307.6" x2="433" y2="321.6"/></g>
<path d="M416.6 320 Q417 318.8 419 318.8 H432.2 Q434.2 318.8 434.6 320 V331 H416.6 Z"/>
<rect x="409.6" y="330.4" width="29.6" height="5.3" rx="0.8"/>
<path d="M411.8 335.6 H437 L434.8 356 H414 Z"/>
<rect x="410.2" y="355.6" width="27.2" height="4.1" rx="0.8"/>
<rect x="412.8" y="322.6" width="1.1" height="8"/>
<ellipse cx="413.6" cy="321.8" rx="1.6" ry="1.9"/>
</g>
<g fill="#000">
<circle cx="496" cy="316.8" r="6.3"/>
<path d="M490.6 325 H501.6 Q504.6 325 505.6 328 L508.6 339.4 Q509 341.4 507.2 342 Q505.4 342.4 504.8 340.6 L502.6 333 V360 Q502.6 362.4 500 362.4 Q497.4 362.4 497.4 360 V345 H494.8 V360 Q494.8 362.4 492.2 362.4 Q489.6 362.4 489.6 360 V333 L487.4 340.6 Q486.8 342.4 485 342 Q483.2 341.4 483.6 339.4 L486.6 328 Q487.6 325 490.6 325 Z"/>
<g transform="translate(508.8 311.7)"><circle r="4.3" fill="none" stroke="#000" stroke-width="2.4"/><g stroke="#000" stroke-width="2.6"><line x1="0" y1="-6.6" x2="0" y2="6.6"/><line x1="-6.6" y1="0" x2="6.6" y2="0"/><line x1="-4.7" y1="-4.7" x2="4.7" y2="4.7"/><line x1="-4.7" y1="4.7" x2="4.7" y2="-4.7"/></g><circle r="2.2" fill="#fff"/></g>
<g transform="translate(513.2 321.6)"><circle r="2.7" fill="none" stroke="#000" stroke-width="1.6"/><g stroke="#000" stroke-width="1.7"><line x1="0" y1="-4.2" x2="0" y2="4.2"/><line x1="-4.2" y1="0" x2="4.2" y2="0"/><line x1="-3" y1="-3" x2="3" y2="3"/><line x1="-3" y1="3" x2="3" y2="-3"/></g><circle r="1.4" fill="#fff"/></g>
</g></g>
<g class="t"><text x="79.21" y="80.54" font-size="9.17" fill="#fff" stroke="#fff" stroke-width="0.09" textLength="27.47" lengthAdjust="spacingAndGlyphs" transform="rotate(-90 79.21 80.54)">leitet &gt;</text>
<text x="79.21" y="160.48" font-size="9.17" fill="#fff" stroke="#fff" stroke-width="0.09" textLength="44.35" lengthAdjust="spacingAndGlyphs" transform="rotate(-90 79.21 160.48)">&lt; zuständig</text>
<text x="79.21" y="221.83" font-size="9.17" fill="#fff" stroke="#fff" stroke-width="0.09" textLength="29.07" lengthAdjust="spacingAndGlyphs" transform="rotate(-90 79.21 221.83)">&lt; wählt</text>
<text x="622.11" y="80.54" font-size="9.17" fill="#fff" stroke="#fff" stroke-width="0.09" textLength="27.47" lengthAdjust="spacingAndGlyphs" transform="rotate(-90 622.11 80.54)">leitet &gt;</text>
<text x="622.11" y="160.48" font-size="9.17" fill="#fff" stroke="#fff" stroke-width="0.09" textLength="44.35" lengthAdjust="spacingAndGlyphs" transform="rotate(-90 622.11 160.48)">&lt; zuständig</text>
<text x="622.11" y="221.83" font-size="9.17" fill="#fff" stroke="#fff" stroke-width="0.09" textLength="29.07" lengthAdjust="spacingAndGlyphs" transform="rotate(-90 622.11 221.83)">&lt; wählt</text>
<text x="146.40" y="101.80" font-size="9.40" fill="#fff" stroke="#fff" stroke-width="0.10" textLength="37.01" lengthAdjust="spacingAndGlyphs">Teil des &gt;</text>
<text x="509.52" y="101.00" font-size="9.26" fill="#fff" stroke="#fff" stroke-width="0.10" textLength="27.76" lengthAdjust="spacingAndGlyphs">&lt; leitet</text>
<text x="277.41" y="143.77" font-size="9.17" fill="#fff" stroke="#fff" stroke-width="0.09" textLength="27.94" lengthAdjust="spacingAndGlyphs" transform="rotate(-90 277.41 143.77)">berät &gt;</text>
<text x="418.61" y="144.33" font-size="9.17" fill="#fff" stroke="#fff" stroke-width="0.09" textLength="29.07" lengthAdjust="spacingAndGlyphs" transform="rotate(-90 418.61 144.33)">wählt &gt;</text>
<text x="455.21" y="171.83" font-size="9.17" fill="#fff" stroke="#fff" stroke-width="0.09" textLength="29.07" lengthAdjust="spacingAndGlyphs" transform="rotate(-90 455.21 171.83)">wählt &gt;</text>
<text x="472.91" y="181.78" font-size="9.17" fill="#fff" stroke="#fff" stroke-width="0.09" textLength="50.96" lengthAdjust="spacingAndGlyphs" transform="rotate(-90 472.91 181.78)">kontrolliert &gt;</text>
<text x="255.56" y="296.57" font-size="9.17" fill="#fff" stroke="#fff" stroke-width="0.09" textLength="35.74" lengthAdjust="spacingAndGlyphs" transform="rotate(-90 255.56 296.57)">wählen &gt;</text>
<text x="331.01" y="296.57" font-size="9.17" fill="#fff" stroke="#fff" stroke-width="0.09" textLength="35.74" lengthAdjust="spacingAndGlyphs" transform="rotate(-90 331.01 296.57)">wählen &gt;</text>
<text x="407.56" y="296.57" font-size="9.17" fill="#fff" stroke="#fff" stroke-width="0.09" textLength="35.74" lengthAdjust="spacingAndGlyphs" transform="rotate(-90 407.56 296.57)">wählen &gt;</text>
<text x="483.06" y="296.57" font-size="9.17" fill="#fff" stroke="#fff" stroke-width="0.09" textLength="35.74" lengthAdjust="spacingAndGlyphs" transform="rotate(-90 483.06 296.57)">wählen &gt;</text>
<text x="197.16" y="333.40" font-size="9.36" fill="#fff" stroke="#fff" stroke-width="0.10" textLength="36.48" lengthAdjust="spacingAndGlyphs">&lt; wählen</text>
<text x="98.47" y="333.40" font-size="9.36" fill="#fff" stroke="#fff" stroke-width="0.10" textLength="29.67" lengthAdjust="spacingAndGlyphs">&lt; wählt</text>
<text x="-17.87" y="3.1" font-size="8.73" fill="#fff" stroke="#fff" stroke-width="0.09" textLength="35.74" lengthAdjust="spacingAndGlyphs" transform="translate(173.6 296.2) rotate(9.5)">&lt; wählen</text>
<text x="42.70" y="363.90" font-size="7.94" fill="#fff" stroke="#fff" stroke-width="0.06" textLength="43.39" lengthAdjust="spacingAndGlyphs">unterstützen</text>
<text x="62.38" y="355.50" font-size="9.17" fill="#fff" stroke="#fff" stroke-width="0.09" textLength="4.83" lengthAdjust="spacingAndGlyphs">^</text>
<text x="50.36" y="32.10" font-size="8.79" fill="#fff" stroke="#fff" stroke-width="0.08" textLength="48.88" lengthAdjust="spacingAndGlyphs">Dezernat I-IV</text>
<text x="48.85" y="41.60" font-size="8.79" fill="#fff" stroke="#fff" stroke-width="0.08" textLength="51.90" lengthAdjust="spacingAndGlyphs">+ Stabsstellen</text>
<text x="44.21" y="103.90" font-size="15.50" fill="#fff" stroke="#fff" stroke-width="0.26" textLength="69.39" lengthAdjust="spacingAndGlyphs">Kanzler*in</text>
<text x="25.50" y="180.80" font-size="11.43" fill="#fff" stroke="#fff" stroke-width="0.15" textLength="106.80" lengthAdjust="spacingAndGlyphs">Technik &amp; Verwaltung</text>
<text x="57.46" y="235.80" font-size="8.79" fill="#fff" stroke="#fff" stroke-width="0.08" textLength="42.88" lengthAdjust="spacingAndGlyphs">Personalrat</text>
<text x="37.86" y="245.20" font-size="8.79" fill="#fff" stroke="#fff" stroke-width="0.08" textLength="82.08" lengthAdjust="spacingAndGlyphs">Technik &amp; Verwaltung</text>
<text x="157.70" y="42.20" font-size="8.79" fill="#fff" stroke="#fff" stroke-width="0.08" textLength="52.00" lengthAdjust="spacingAndGlyphs">Prorektor*in I</text>
<text x="236.68" y="42.20" font-size="8.79" fill="#fff" stroke="#fff" stroke-width="0.08" textLength="54.35" lengthAdjust="spacingAndGlyphs">Prorektor*in II</text>
<text x="314.96" y="42.20" font-size="8.79" fill="#fff" stroke="#fff" stroke-width="0.08" textLength="56.69" lengthAdjust="spacingAndGlyphs">Prorektor*in III</text>
<text x="394.86" y="42.20" font-size="8.79" fill="#fff" stroke="#fff" stroke-width="0.08" textLength="57.28" lengthAdjust="spacingAndGlyphs">Prorektor*in IV</text>
<text x="476.33" y="42.20" font-size="8.79" fill="#fff" stroke="#fff" stroke-width="0.08" textLength="54.94" lengthAdjust="spacingAndGlyphs">Prorektor*in V</text>
<text x="314.94" y="103.90" font-size="15.50" fill="#fff" stroke="#fff" stroke-width="0.26" textLength="56.71" lengthAdjust="spacingAndGlyphs">Rektorat</text>
<text x="300.23" y="166.70" font-size="15.50" fill="#fff" stroke="#fff" stroke-width="0.26" textLength="87.34" lengthAdjust="spacingAndGlyphs">Hochschulrat</text>
<text x="325.35" y="216.70" font-size="15.50" fill="#fff" stroke="#fff" stroke-width="0.26" textLength="37.51" lengthAdjust="spacingAndGlyphs">Senat</text>
<text x="224.44" y="238.50" font-size="8.79" fill="#fff" stroke="#fff" stroke-width="0.08" textLength="4.71" lengthAdjust="spacingAndGlyphs">3</text>
<text x="199.11" y="248.30" font-size="8.79" fill="#fff" stroke="#fff" stroke-width="0.08" textLength="55.38" lengthAdjust="spacingAndGlyphs">Senator*innen</text>
<text x="302.39" y="238.50" font-size="8.79" fill="#fff" stroke="#fff" stroke-width="0.08" textLength="4.71" lengthAdjust="spacingAndGlyphs">3</text>
<text x="277.06" y="248.30" font-size="8.79" fill="#fff" stroke="#fff" stroke-width="0.08" textLength="55.38" lengthAdjust="spacingAndGlyphs">Senator*innen</text>
<text x="380.14" y="238.50" font-size="8.79" fill="#fff" stroke="#fff" stroke-width="0.08" textLength="4.71" lengthAdjust="spacingAndGlyphs">9</text>
<text x="354.81" y="248.30" font-size="8.79" fill="#fff" stroke="#fff" stroke-width="0.08" textLength="55.38" lengthAdjust="spacingAndGlyphs">Senator*innen</text>
<text x="458.19" y="238.50" font-size="8.79" fill="#fff" stroke="#fff" stroke-width="0.08" textLength="4.71" lengthAdjust="spacingAndGlyphs">3</text>
<text x="432.86" y="248.30" font-size="8.79" fill="#fff" stroke="#fff" stroke-width="0.08" textLength="55.38" lengthAdjust="spacingAndGlyphs">Senator*innen</text>
<text x="590.15" y="32.10" font-size="7.84" fill="#fff" stroke="#fff" stroke-width="0.06" textLength="56.69" lengthAdjust="spacingAndGlyphs">Stabsstelle Akad.</text>
<text x="582.89" y="42.20" font-size="7.84" fill="#fff" stroke="#fff" stroke-width="0.06" textLength="71.22" lengthAdjust="spacingAndGlyphs">Planung &amp; Steuerung</text>
<text x="582.40" y="103.90" font-size="15.50" fill="#fff" stroke="#fff" stroke-width="0.26" textLength="64.40" lengthAdjust="spacingAndGlyphs">Rektor*in</text>
<text x="575.49" y="179.80" font-size="11.43" fill="#fff" stroke="#fff" stroke-width="0.15" textLength="78.21" lengthAdjust="spacingAndGlyphs">Akad. Mittelbau</text>
<text x="593.16" y="236.50" font-size="8.79" fill="#fff" stroke="#fff" stroke-width="0.08" textLength="42.88" lengthAdjust="spacingAndGlyphs">Personalrat</text>
<text x="589.71" y="245.80" font-size="8.79" fill="#fff" stroke="#fff" stroke-width="0.08" textLength="49.78" lengthAdjust="spacingAndGlyphs">Wissenschaft</text>
<text x="33.72" y="280.00" font-size="9.64" fill="#fff" stroke="#fff" stroke-width="0.10" textLength="58.37" lengthAdjust="spacingAndGlyphs">Studiengangs-</text>
<text x="30.54" y="289.10" font-size="9.64" fill="#fff" stroke="#fff" stroke-width="0.10" textLength="64.72" lengthAdjust="spacingAndGlyphs">sprecher*innen</text>
<text x="35.2" y="340.91" font-size="9.2" fill="#fff" stroke="#fff" stroke-width="0.1" textLength="24.63" lengthAdjust="spacingAndGlyphs" transform="rotate(-90 35.2 340.91)">BSofA</text>
<text x="59.03" y="334.40" font-size="12.95" fill="#fff" stroke="#fff" stroke-width="0.19" textLength="26.74" lengthAdjust="spacingAndGlyphs">AStA</text>
<text x="144.49" y="334.20" font-size="15.50" fill="#fff" stroke="#fff" stroke-width="0.26" textLength="37.62" lengthAdjust="spacingAndGlyphs">StuPa</text>
<text x="26.79" y="378.60" font-size="8.79" fill="#fff" stroke="#fff" stroke-width="0.08" textLength="70.01" lengthAdjust="spacingAndGlyphs">AStA-Helfer*innen</text>
<text x="35.10" y="387.60" font-size="8.79" fill="#fff" stroke="#fff" stroke-width="0.08" textLength="52.80" lengthAdjust="spacingAndGlyphs">+ Tutor*innen</text>
<text x="145.80" y="22.60" font-size="8.56" fill="#e2141c" stroke="#e2141c" stroke-width="0.32" textLength="75.41" lengthAdjust="spacingAndGlyphs">UK Lehre &amp; Studium</text>
<text x="233.70" y="15.60" font-size="8.56" fill="#e2141c" stroke="#e2141c" stroke-width="0.32" textLength="59.44" lengthAdjust="spacingAndGlyphs">UK Forschung &amp;</text>
<text x="233.70" y="22.80" font-size="8.56" fill="#e2141c" stroke="#e2141c" stroke-width="0.32" textLength="63.03" lengthAdjust="spacingAndGlyphs">wiss. Nachwuchs</text>
<text x="313.30" y="22.60" font-size="8.56" fill="#e2141c" stroke="#e2141c" stroke-width="0.32" textLength="55.43" lengthAdjust="spacingAndGlyphs">UK Ressourcen</text>
<text x="405.50" y="22.60" font-size="8.56" fill="#e2141c" stroke="#e2141c" stroke-width="0.32" textLength="106.55" lengthAdjust="spacingAndGlyphs">UK Transfer &amp; Digitalisierung</text>
<text x="129.50" y="375.80" font-size="12.19" fill="#e2141c" stroke="#e2141c" stroke-width="0.30" textLength="67.76" lengthAdjust="spacingAndGlyphs">Studentische</text>
<text x="129.50" y="391.80" font-size="12.19" fill="#e2141c" stroke="#e2141c" stroke-width="0.30" textLength="90.09" lengthAdjust="spacingAndGlyphs">Selbstverwaltung</text>
<text x="543.30" y="376.30" font-size="12.19" fill="#3838f0" stroke="#3838f0" stroke-width="0.30" textLength="109.01" lengthAdjust="spacingAndGlyphs">Hochschulstrukturen</text></g>
<g class="c"><text x="247.96" y="380.30" font-size="7.75" fill="#111" textLength="46.88" lengthAdjust="spacingAndGlyphs">STUDIERENDE</text>
<text x="320.21" y="375.30" font-size="7.75" fill="#111" textLength="53.58" lengthAdjust="spacingAndGlyphs">AKADEMISCHER</text>
<text x="327.55" y="385.40" font-size="7.75" fill="#111" textLength="38.89" lengthAdjust="spacingAndGlyphs">MITTELBAU</text>
<text x="400.76" y="375.30" font-size="7.75" fill="#111" textLength="44.49" lengthAdjust="spacingAndGlyphs">HOCHSCHUL-</text>
<text x="397.25" y="385.40" font-size="7.75" fill="#111" textLength="51.50" lengthAdjust="spacingAndGlyphs">LEHRER*INNEN</text>
<text x="478.07" y="375.30" font-size="7.75" fill="#111" textLength="36.45" lengthAdjust="spacingAndGlyphs">TECHNIK &amp;</text>
<text x="472.66" y="385.40" font-size="7.75" fill="#111" textLength="47.28" lengthAdjust="spacingAndGlyphs">VERWALTUNG</text></g>
</svg>
</body></html>
